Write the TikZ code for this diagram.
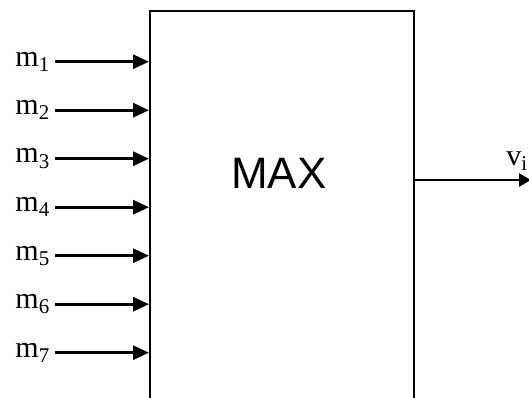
\documentclass[tikz,border=0pt]{standalone}
\usepackage{fontspec}
\setmainfont{Liberation Serif}
\newfontfamily\maxfont{Liberation Sans}
\usetikzlibrary{arrows.meta,positioning}
\tikzset{
    maxblock/.style={rectangle,draw,line width=2pt,minimum width=264pt,minimum height=420pt,inner sep=0pt},
    maxtext/.style={font=\maxfont\fontsize{44}{44}\selectfont},
    inlabel/.style={anchor=east,inner xsep=5pt,inner ysep=0pt,font=\fontsize{30}{30}\selectfont},
    inline/.style={-{Triangle[length=16pt 0,width=14pt 0]},line width=3pt},
    outarrow/.style={-{Triangle[length=12pt 0,width=13pt 0]},line width=2.5pt}
}
\begin{document}
\begin{tikzpicture}[x=1pt,y=1pt]
    \useasboundingbox (0,0) rectangle (529,397);
    \clip (0,0) rectangle (529,397);
    \node[maxblock] (maxbox) at (282,176) {};
    \node[maxtext] (maxlbl) at (279,223.5) {MAX};
    \foreach \i in {1,...,7}{
        \node[inlabel] (m\i) at (55,{335.3-48.5*(\i-1)}) {m\textsubscript{\i}};
        \draw[inline] (m\i) -- (m\i -| maxbox.west);
    }
    \coordinate (vout) at (531,217);
    \draw[outarrow] (maxbox.east |- vout) -- (vout);
    \node[anchor=base east,inner sep=0pt,font=\fontsize{30}{30}\selectfont] (vlbl) at (528,232) {v\textsubscript{i}};
\end{tikzpicture}
\end{document}
